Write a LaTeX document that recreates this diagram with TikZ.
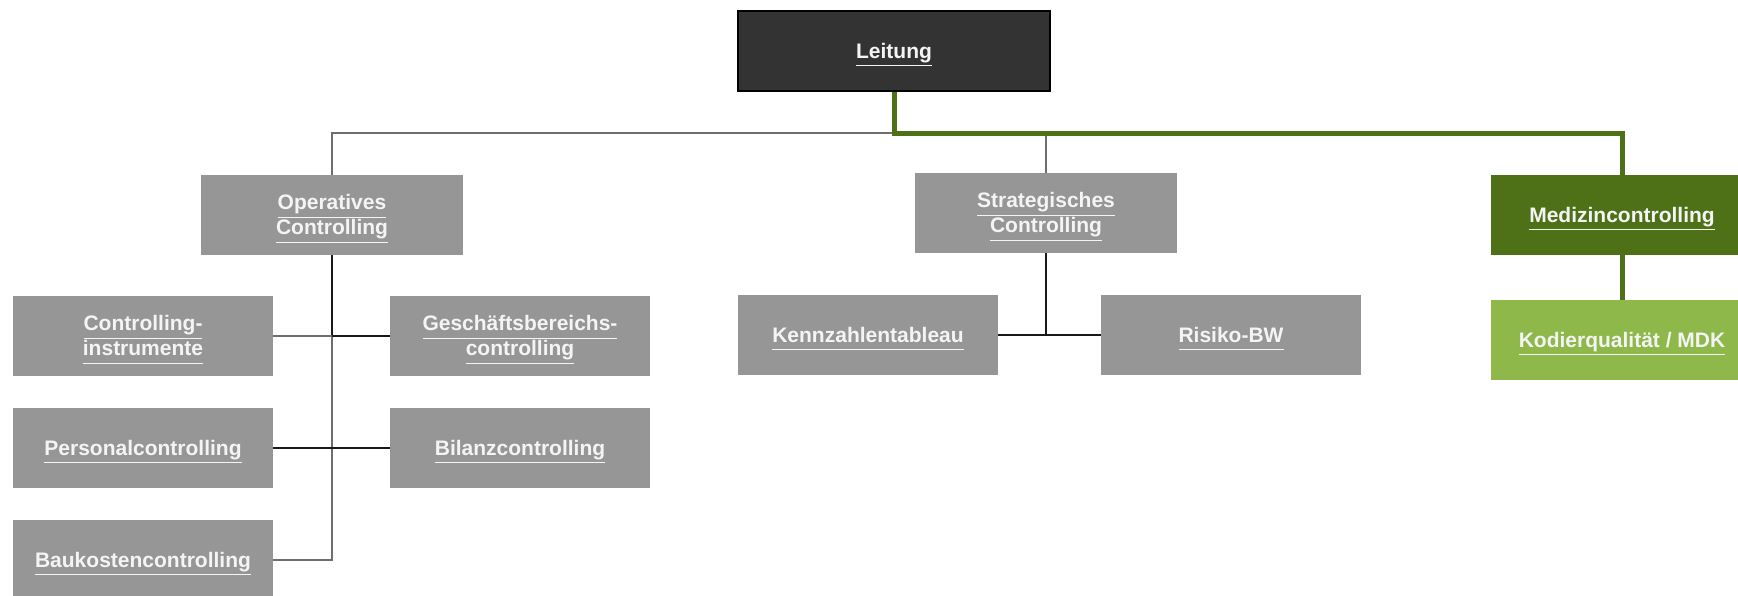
\documentclass[tikz,border=0pt]{standalone}
\usepackage{fontspec}
\setmainfont{Liberation Sans}
\newcommand{\ulx}[1]{\smash{\underline{\vphantom{g}#1}}\vphantom{A}}
\definecolor{boxgrey}{HTML}{969696}
\definecolor{leitc}{HTML}{333333}
\definecolor{darkgreen}{HTML}{4E7017}
\definecolor{lightgreen}{HTML}{8FB84A}
\definecolor{txt}{HTML}{F4F4F4}
\definecolor{linegrey}{HTML}{6E6E6E}
\begin{document}
\begin{tikzpicture}[x=0.5pt,y=-0.5pt,
  every node/.style={font=\fontsize{10.5}{12.5}\selectfont\bfseries, text=txt, align=center, inner sep=0pt},
  gbox/.style={fill=boxgrey, minimum width=130pt, minimum height=40pt},
  mbox/.style={fill=boxgrey, minimum width=131pt, minimum height=40pt},
  lbox/.style={fill=leitc, draw=black, line width=0.6pt, minimum width=156pt, minimum height=40pt},
  medbox/.style={fill=darkgreen, minimum width=131pt, minimum height=40pt},
  kodbox/.style={fill=lightgreen, minimum width=131pt, minimum height=40pt},
  gline/.style={draw=linegrey, line width=1pt},
  bline/.style={draw=black!90, line width=1pt},
  greenline/.style={draw=darkgreen, line width=2.5pt}]
\useasboundingbox (0,0) rectangle (1738,595);
\node[lbox] (lei) at (894,51) {\ulx{Leitung}};
\node[mbox] (ops) at (332,215) {\ulx{Operatives}\\\ulx{Controlling}};
\node[mbox] (str) at (1046,213) {\ulx{Strategisches}\\\ulx{Controlling}};
\node[medbox] (med) at (1622,215) {\ulx{Medizincontrolling}};
\node[kodbox] (kod) at (1622,340) {\ulx{Kodierqualität / MDK}};
\node[gbox] (ci) at (143,336) {\ulx{Controlling-}\\\ulx{instrumente}};
\node[gbox] (gb) at (520,336) {\ulx{Geschäftsbereichs-}\\\ulx{controlling}};
\node[gbox] (pc) at (143,448) {\ulx{Personalcontrolling}};
\node[gbox] (bc) at (520,448) {\ulx{Bilanzcontrolling}};
\node[gbox] (bk) at (143,560) {\ulx{Baukostencontrolling}};
\node[gbox] (kz) at (868,335) {\ulx{Kennzahlentableau}};
\node[gbox] (rb) at (1231,335) {\ulx{Risiko-BW}};
\coordinate (gj) at (894,133);
% grey top-level lines
\draw[gline] (gj) -| (ops.north);
\draw[gline] (str.north) -- (str.north |- gj);
% green path
\draw[greenline] (lei.south) -- (gj) -| (med.north);
\draw[greenline] (med.south) -- (kod.north);
% operative tree
\draw[gline] (ops.south) |- (bk.east);
\draw[bline] (ops.south) -- (ops.south |- gb.west);
\draw[gline] (ci.east) -- (gb.west);
\draw[bline] (ops.south |- gb.west) -- (gb.west);
\draw[bline] (pc.east) -- (bc.west);
% strategic tree
\draw[bline] (str.south) -- (str.south |- kz.east);
\draw[bline] (kz.east) -- (rb.west);
\end{tikzpicture}
\end{document}
